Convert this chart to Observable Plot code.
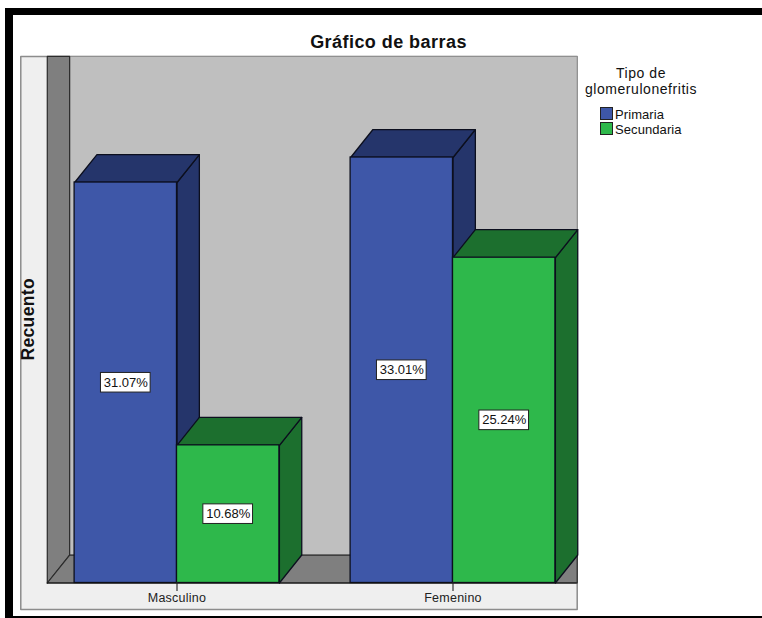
<!DOCTYPE html>
<html lang="es">
<head>
<meta charset="utf-8">
<title>Gráfico de barras</title>
<script src="https://cdn.jsdelivr.net/npm/d3@7"></script>
<script src="https://cdn.jsdelivr.net/npm/@observablehq/plot@0.6"></script>
<style>
  html, body { margin: 0; padding: 0; background: #fff; overflow: hidden; }
  body { width: 762px; height: 618px; position: relative; font-family: "Liberation Sans", Arial, sans-serif; color: #111; }
  #chart { position: absolute; left: 0; top: 0; width: 762px; height: 618px; }
  #chart svg { display: block; max-width: none; }
  #chart .cat-label { letter-spacing: 0.25px; }
  #chart .axis-title { letter-spacing: 0.35px; }
  .frame { position: absolute; background: #000; }
  #title { position: absolute; left: 20px; width: 737px; top: 32px; text-align: center; font-size: 18px; font-weight: bold; line-height: 20px; letter-spacing: 0.45px; }
  #legend { position: absolute; left: 580px; top: 65px; width: 122px; }
  #legend .head { text-align: center; font-size: 14px; line-height: 16px; letter-spacing: 0.55px; margin-bottom: 10px; }
  #legend .row { position: relative; height: 15px; font-size: 13px; line-height: 15px; padding-left: 35px; letter-spacing: 0.08px; }
  #legend .swatch { position: absolute; left: 20px; top: 0; width: 11px; height: 11px; border: 1px solid #222; }
</style>
</head>
<body>
<div id="chart"></div>
<div class="frame" style="left:5px;top:8px;width:757px;height:7px"></div>
<div class="frame" style="left:5px;top:8px;width:8px;height:610px"></div>
<div class="frame" style="left:5px;top:616px;width:757px;height:2px"></div>
<div id="title">Gráfico de barras</div>
<div id="legend"></div>
<script>
// Recuento por sexo y tipo de glomerulonefritis (porcentaje del total)
const categories = ["Masculino", "Femenino"];
const tipos = ["Primaria", "Secundaria"];
const primaria = [31.07, 33.01];
const secundaria = [10.68, 25.24];

const legendTitle = ["Tipo de", "glomerulonefritis"];
const axisTitle = "Recuento";

const frontColors = ["#3e57a8", "#2eb84b"];
const shadeColors = ["#25356b", "#1c6f2e"];

// Extents of the 3D box, in scale units (x: category index, y: percent)
const barWidth = 0.371;
const depthX = 0.081;
const depthY = 2.17;
const boxLeft = -0.47;
const boxRight = 1.45 - depthX;
const boxTop = 40.85 - depthY;
const panelLeft = -0.566;
const panelBottom = -2.05;

const bars = categories.flatMap((category, c) =>
  [primaria[c], secundaria[c]].map((value, t) => ({
    category, tipo: tipos[t], value,
    x1: c + (t - 1) * barWidth,
    x2: c + t * barWidth,
    front: frontColors[t],
    shade: shadeColors[t]
  }))
);

const polygon = (points) => points.concat([points[0]]).map(([x, y]) => ({x, y}));
const face = (points, fill, stroke = "#0c0f1e", strokeWidth = 1.3) =>
  Plot.line(polygon(points), {x: "x", y: "y", fill, stroke, strokeWidth, strokeLinejoin: "round"});

// Each bar: side face, top face, then front face, painted back to front
const barMarks = bars.flatMap((b) => [
  face([[b.x2, 0], [b.x2 + depthX, depthY], [b.x2 + depthX, b.value + depthY], [b.x2, b.value]], b.shade),
  face([[b.x1, b.value], [b.x1 + depthX, b.value + depthY], [b.x2 + depthX, b.value + depthY], [b.x2, b.value]], b.shade),
  Plot.rect([b], {x1: "x1", x2: "x2", y1: 0, y2: "value", fill: "front", stroke: "#0c0f1e", strokeWidth: 1.3})
]);

const labelHalfW = 0.09;
const labelHalfH = 0.76;
const labelCenterX = (b) => (b.x1 + b.x2) / 2;

const plot = Plot.plot({
  width: 762,
  height: 618,
  margin: 0,
  x: {domain: [0, 1], range: [176.5, 452.5], axis: null},
  y: {domain: [0, 33.01], range: [582.5, 157], axis: null},
  color: {type: "identity"},
  marks: [
    // Light surround of the plot area
    face([[panelLeft, panelBottom], [panelLeft, boxTop + depthY], [boxRight + depthX, boxTop + depthY], [boxRight + depthX, panelBottom]], "#efefef", "#8c8c8c", 1.5),
    // Back wall
    face([[boxLeft + depthX, depthY], [boxLeft + depthX, boxTop + depthY], [boxRight + depthX, boxTop + depthY], [boxRight + depthX, depthY]], "#bfbfbf", "#8f8f8f", 1),
    // Left wall
    face([[boxLeft, 0], [boxLeft, boxTop + depthY], [boxLeft + depthX, boxTop + depthY], [boxLeft + depthX, depthY]], "#7f7f7f", "#2b2b2b", 1.2),
    // Floor
    face([[boxLeft, 0], [boxLeft + depthX, depthY], [boxRight + depthX, depthY], [boxRight + depthX, 0]], "#7f7f7f", "#2b2b2b", 1.2),
    ...barMarks,
    // Category axis
    Plot.ruleY([0], {x1: boxLeft, x2: boxRight + depthX, stroke: "#111", strokeWidth: 1.2}),
    Plot.ruleX([0, 1], {y1: 0, y2: -0.65, stroke: "#333", strokeWidth: 1.2}),
    Plot.text(categories, {x: (d, i) => i, y: -1.2, text: (d) => d, fontSize: 12.5, className: "cat-label", fontFamily: "Liberation Sans, Arial, sans-serif", fill: "#222"}),
    Plot.text([axisTitle], {x: panelLeft + 0.026, y: 20.46, text: (d) => d, rotate: -90, fontSize: 17.5, fontWeight: "bold", className: "axis-title", fontFamily: "Liberation Sans, Arial, sans-serif", fill: "#111"}),
    // Value labels
    Plot.rect(bars, {
      x1: (b) => labelCenterX(b) - labelHalfW,
      x2: (b) => labelCenterX(b) + labelHalfW,
      y1: (b) => b.value / 2 - labelHalfH,
      y2: (b) => b.value / 2 + labelHalfH,
      fill: "#fff", stroke: "#222", strokeWidth: 1
    }),
    Plot.text(bars, {
      x: labelCenterX,
      y: (b) => b.value / 2,
      text: (b) => b.value.toFixed(2) + "%",
      fontSize: 13,
      fontFamily: "Liberation Sans, Arial, sans-serif",
      fill: "#111"
    })
  ]
});
document.getElementById("chart").append(plot);

// Legend for the two glomerulonephritis types
const legend = document.getElementById("legend");
const head = document.createElement("div");
head.className = "head";
head.innerHTML = legendTitle.join("<br>");
legend.append(head);
tipos.forEach((tipo, i) => {
  const row = document.createElement("div");
  row.className = "row";
  const swatch = document.createElement("span");
  swatch.className = "swatch";
  swatch.style.background = frontColors[i];
  row.append(swatch, tipo);
  legend.append(row);
});
</script>
</body>
</html>
